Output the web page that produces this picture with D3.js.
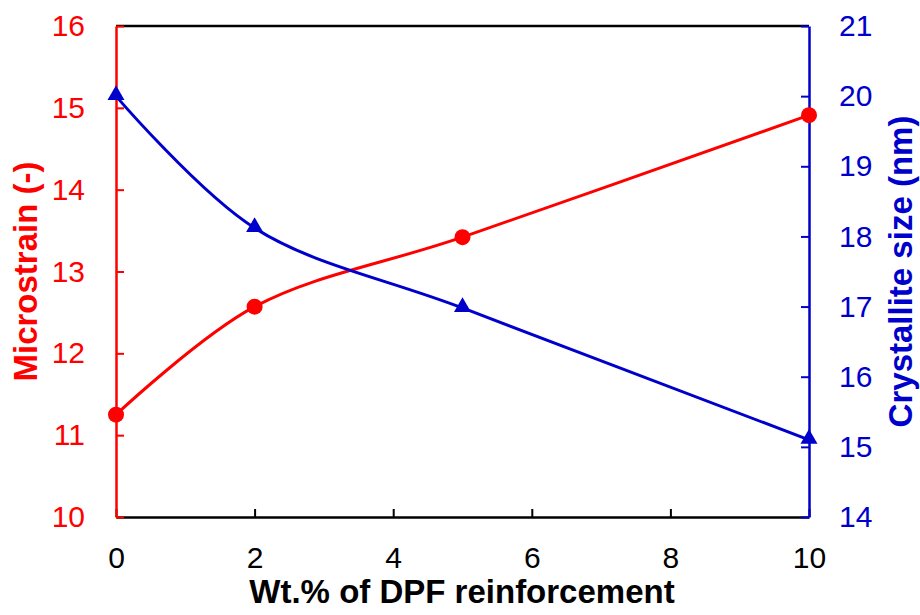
<!DOCTYPE html>
<html>
<head>
<meta charset="utf-8">
<script src="https://cdn.jsdelivr.net/npm/d3@7"></script>
<style>
  html, body { margin: 0; padding: 0; background: #fff; }
  svg { display: block; font-family: "Liberation Sans", Arial, sans-serif; }
</style>
</head>
<body>
<svg id="chart" width="920" height="615"></svg>
<script>
const wtPercent = [0, 2, 5, 10];
const microstrain = [11.25, 12.57, 13.42, 14.91];
const crystalliteSize = [20.0, 18.12, 16.98, 15.1];
const xTicks = [0, 2, 4, 6, 8, 10];
const leftTicks = [10, 11, 12, 13, 14, 15, 16];
const rightTicks = [14, 15, 16, 17, 18, 19, 20, 21];

const RED = "#FF0000", BLUE = "#0000CC";
const svg = d3.select("#chart");
const m = { left: 116, right: 809, top: 26, bottom: 517 };

const x = d3.scaleLinear().domain([0, 10]).range([m.left, m.right]);
const yL = d3.scaleLinear().domain([10, 16]).range([m.bottom, m.top]);
const yR = d3.scaleLinear().domain([14, 21]).range([m.bottom, m.top]);

const fs = 30;
const fmt = d3.format("d");
const FONT = "Liberation Sans, Arial, sans-serif";

// Bottom axis
const xAxis = svg.append("g").attr("transform", `translate(0,${m.bottom})`)
  .call(d3.axisBottom(x).tickValues(xTicks).tickFormat(fmt).tickSizeInner(-8).tickSizeOuter(0).tickPadding(30));
xAxis.select(".domain").attr("stroke", "#000").attr("stroke-width", 2.5);
xAxis.selectAll(".tick line").attr("stroke", "#000").attr("stroke-width", 2);
xAxis.selectAll(".tick text").attr("font-size", fs).attr("fill", "#000").attr("font-family", FONT);

// Top border
svg.append("line").attr("x1", m.left).attr("x2", m.right).attr("y1", m.top).attr("y2", m.top)
  .attr("stroke", "#000").attr("stroke-width", 2.5);

// Left axis
const lAxis = svg.append("g").attr("transform", `translate(${m.left},0)`)
  .call(d3.axisLeft(yL).tickValues(leftTicks).tickFormat(fmt).tickSizeInner(-8).tickSizeOuter(0).tickPadding(31));
lAxis.select(".domain").attr("stroke", RED).attr("stroke-width", 2.5);
lAxis.selectAll(".tick line").attr("stroke", RED).attr("stroke-width", 2);
lAxis.selectAll(".tick text").attr("font-size", fs).attr("fill", RED).attr("font-family", FONT);

// Right axis
const rAxis = svg.append("g").attr("transform", `translate(${m.right},0)`)
  .call(d3.axisRight(yR).tickValues(rightTicks).tickFormat(fmt).tickSizeInner(-8).tickSizeOuter(0).tickPadding(30));
rAxis.select(".domain").attr("stroke", BLUE).attr("stroke-width", 2.5);
rAxis.selectAll(".tick line").attr("stroke", BLUE).attr("stroke-width", 2);
rAxis.selectAll(".tick text").attr("font-size", fs).attr("fill", BLUE).attr("font-family", FONT);

// Lines
const curve = d3.curveCatmullRom.alpha(0.5);
const redLine = d3.line().x((d, i) => x(wtPercent[i])).y(d => yL(d)).curve(curve);
const blueLine = d3.line().x((d, i) => x(wtPercent[i])).y(d => yR(d)).curve(curve);

svg.append("path").datum(microstrain).attr("d", redLine)
  .attr("fill", "none").attr("stroke", RED).attr("stroke-width", 3);
svg.append("path").datum(crystalliteSize).attr("d", blueLine)
  .attr("fill", "none").attr("stroke", BLUE).attr("stroke-width", 3);

// Markers
svg.selectAll(".dot").data(microstrain).enter().append("circle")
  .attr("cx", (d, i) => x(wtPercent[i])).attr("cy", d => yL(d)).attr("r", 8).attr("fill", RED);
const tri = d3.symbol().type(d3.symbolTriangle).size(125);
svg.selectAll(".tri").data(crystalliteSize).enter().append("path")
  .attr("d", tri).attr("transform", (d, i) => `translate(${x(wtPercent[i])},${yR(d) - 1})`).attr("fill", BLUE);

// Axis titles
svg.append("text").attr("x", 462).attr("y", 603)
  .attr("text-anchor", "middle").attr("font-size", 33).attr("font-weight", "bold").attr("fill", "#000")
  .attr("font-family", FONT).text("Wt.% of DPF reinforcement");
svg.append("text").attr("transform", `translate(37,${(m.top + m.bottom) / 2}) rotate(-90)`)
  .attr("text-anchor", "middle").attr("font-size", 33).attr("font-weight", "bold").attr("fill", RED)
  .attr("font-family", FONT).text("Microstrain (-)");
svg.append("text").attr("transform", `translate(912,${(m.top + m.bottom) / 2}) rotate(-90)`)
  .attr("text-anchor", "middle").attr("font-size", 33).attr("font-weight", "bold").attr("fill", BLUE)
  .attr("font-family", FONT).text("Crystallite size (nm)");
</script>
</body>
</html>
